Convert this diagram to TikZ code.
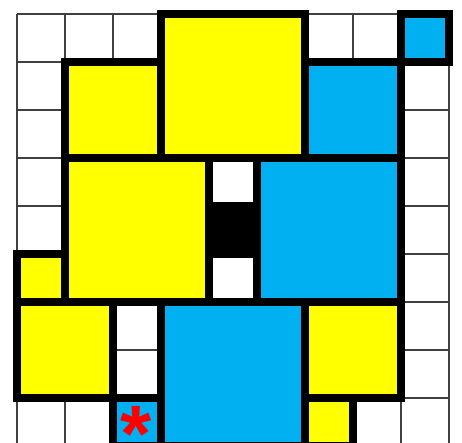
\documentclass[tikz,border=0pt]{standalone}
\usepackage{fontspec}
\newfontfamily\astfont{Liberation Sans}
\definecolor{sqyellow}{RGB}{255,255,0}
\definecolor{sqblue}{RGB}{0,176,240}
\begin{document}
\begin{tikzpicture}[x=1pt,y=-1pt,
  gridline/.style={line width=1.3pt, draw=black!75},
  tileborder/.style={line width=7.5pt, draw=black, line join=miter},
  yel/.style={fill=sqyellow},
  blu/.style={fill=sqblue},
  blk/.style={fill=black}]
\useasboundingbox (0,0) rectangle (462,443);
\begin{scope}
\clip (0,0) rectangle (462,443);
\foreach \i in {0,...,9} {
  \draw[gridline] ({17+48*\i},14) -- ({17+48*\i},446);
  \draw[gridline] (17,{14+48*\i}) -- (449,{14+48*\i});
}
% fills: col, row, size, style
\foreach \c/\r/\s/\st in {3/0/3/yel, 8/0/1/blu, 1/1/2/yel, 6/1/2/blu, 1/3/3/yel, 4/4/1/blk, 5/3/3/blu, 0/5/1/yel, 0/6/2/yel, 3/6/3/blu, 2/8/1/blu, 6/6/2/yel, 6/8/1/yel} {
  \path[\st] ({17+48*\c},{14+48*\r}) rectangle ++({48*\s},{48*\s});
}
\foreach \c/\r/\s in {3/0/3, 8/0/1, 1/1/2, 6/1/2, 1/3/3, 4/4/1, 5/3/3, 0/5/1, 0/6/2, 3/6/3, 2/8/1, 6/6/2, 6/8/1} {
  \draw[tileborder] ({17+48*\c},{14+48*\r}) rectangle ++({48*\s},{48*\s});
}
\end{scope}
\node[text=red, font=\astfont\bfseries\fontsize{80}{80}\selectfont, anchor=center, inner sep=0pt] (star) at (136,419) {\raisebox{-0.36em}[0.35em][0pt]{*}};
\end{tikzpicture}
\end{document}
